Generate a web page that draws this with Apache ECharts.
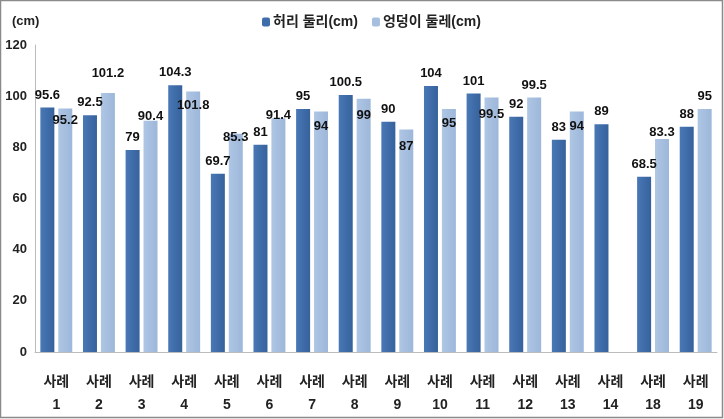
<!DOCTYPE html>
<html>
<head>
<meta charset="utf-8">
<script src="https://cdn.jsdelivr.net/npm/echarts@6/dist/echarts.min.js"></script>
<style>
html,body{margin:0;padding:0;background:#fff;}
#c{width:724px;height:419px;}
</style>
</head>
<body>
<div id="c"></div>
<script>
// ---- data ----
var categories = ['사례\n1','사례\n2','사례\n3','사례\n4','사례\n5','사례\n6','사례\n7','사례\n8','사례\n9','사례\n10','사례\n11','사례\n12','사례\n13','사례\n14','사례\n18','사례\n19'];
var waist = [95.6, 92.5, 79, 104.3, 69.7, 81, 95, 100.5, 90, 104, 101, 92, 83, 89, 68.5, 88];
var hip = [95.2, 101.2, 90.4, 101.8, 85.3, 91.4, 94, 99, 87, 95, 99.5, 99.5, 94, null, 83.3, 95];
var seriesNames = ['허리 둘리(cm)', '엉덩이 둘레(cm)'];
var yTicks = [0, 20, 40, 60, 80, 100, 120];

// ---- style (label vertical shifts, px) ----
var hipShift = [24, -7, 8, 26, 16, 10, 27, 29, 29, 27, 29, 0, 27, 0, 6, 0];

var FONT = '"Liberation Sans", "Noto Sans CJK KR", sans-serif';

function grad(a, b) {
  return new echarts.graphic.LinearGradient(0, 0, 1, 0, [
    {offset: 0, color: a}, {offset: 1, color: b}
  ]);
}

var hipData = hip.map(function (v, i) {
  if (v === null) return null;
  return {value: v, label: {offset: [0, hipShift[i]]}};
});

var chart = echarts.init(document.getElementById('c'), null, {renderer: 'canvas'});
chart.setOption({
  animation: false,
  backgroundColor: '#ffffff',
  textStyle: {fontFamily: FONT},
  graphic: [
    {type: 'rect', shape: {x: 0.5, y: 0.5, width: 722, height: 417}, style: {fill: 'none', stroke: '#8a8a8a', lineWidth: 1.5}, z: 100},
    {type: 'text', left: 12, top: 15, style: {text: '(cm)', font: 'bold 13px ' + FONT, fill: '#222'}}
  ],
  legend: {
    top: 10,
    left: 257,
    itemWidth: 8,
    itemHeight: 9,
    itemGap: 14,
    textStyle: {fontSize: 14, fontWeight: 'bold', color: '#222', fontFamily: FONT, padding: [0, 0, 0, -2]},
    data: [
      {name: seriesNames[0], itemStyle: {color: '#3F6DA9'}},
      {name: seriesNames[1], itemStyle: {color: '#A6BFDF'}}
    ]
  },
  grid: {left: 35, right: 7, top: 45, bottom: 67},
  xAxis: {
    type: 'category',
    data: categories,
    axisLine: {lineStyle: {color: '#bcbcbc', width: 1}},
    axisTick: {show: false},
    axisLabel: {color: '#222', fontSize: 14, fontWeight: 'bold', lineHeight: 23, margin: 19, fontFamily: FONT, interval: 0}
  },
  yAxis: {
    type: 'value',
    min: 0,
    max: 120,
    interval: 20,
    axisLine: {show: true, lineStyle: {color: '#bcbcbc', width: 1}},
    axisTick: {show: false},
    splitLine: {show: false},
    axisLabel: {color: '#222', fontSize: 13, fontWeight: 'bold', margin: 8, fontFamily: FONT,
      formatter: function (v) { return yTicks.indexOf(v) >= 0 ? String(v) : ''; }}
  },
  series: [
    {
      name: seriesNames[0],
      type: 'bar',
      data: waist,
      barWidth: 14,
      barGap: '28%',
      itemStyle: {color: grad('#4978B6', '#36629C')},
      label: {show: true, position: 'top', distance: 6, color: '#111', fontSize: 13, fontWeight: 'bold', fontFamily: FONT}
    },
    {
      name: seriesNames[1],
      type: 'bar',
      data: hipData,
      barWidth: 14,
      barGap: '28%',
      itemStyle: {color: grad('#AFC6E4', '#9DB7DA')},
      label: {show: true, position: 'top', distance: 6, color: '#111', fontSize: 13, fontWeight: 'bold', fontFamily: FONT}
    }
  ]
});
</script>
</body>
</html>
